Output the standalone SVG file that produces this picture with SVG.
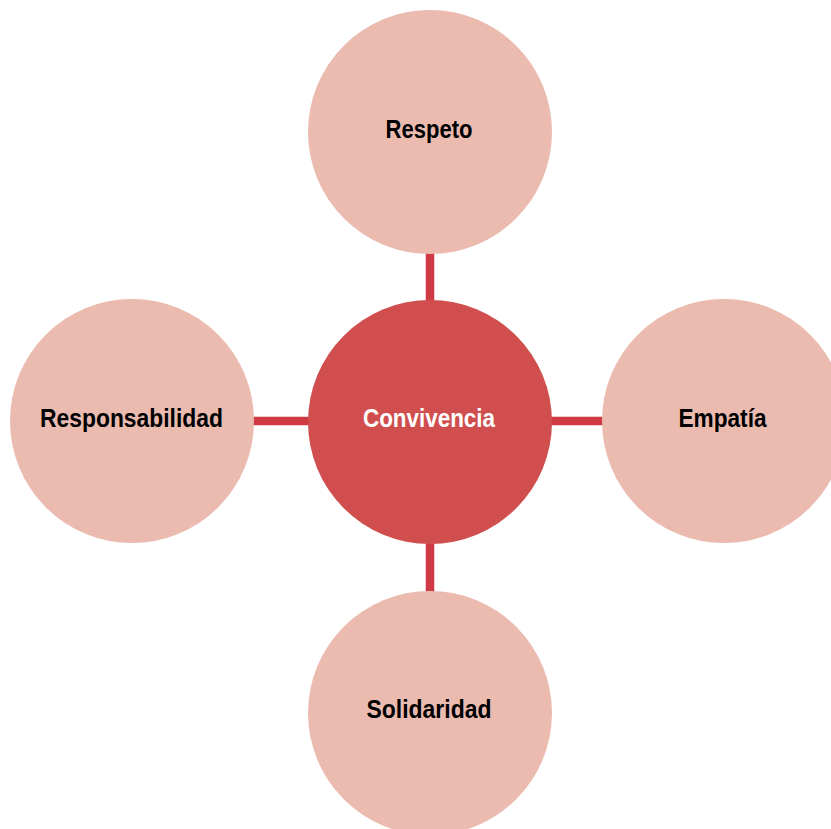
<svg xmlns="http://www.w3.org/2000/svg" width="831" height="829" viewBox="0 0 831 829">
<style>
.leaf{fill:#EBBBB0}
.hub{fill:#D04F4E}
.lbl{font-family:"Liberation Sans",Arial,sans-serif;font-weight:bold;font-size:25px;text-anchor:middle;fill:#000}
.hubl{fill:#fff}
.conn{stroke:#D03A44;stroke-width:8.5;fill:none}
</style>
<rect width="831" height="829" fill="#fff"/>
<g id="connectors">
<line class="conn" x1="430" y1="250" x2="430" y2="304"/>
<line class="conn" x1="430" y1="540" x2="430" y2="595"/>
<line class="conn" x1="250" y1="421" x2="312" y2="421"/>
<line class="conn" x1="548" y1="421" x2="606" y2="421"/>
</g>
<g id="node-respeto">
<circle class="leaf" cx="430" cy="132" r="122"/>
<text class="lbl" x="429" y="138" textLength="87" lengthAdjust="spacingAndGlyphs">Respeto</text>
</g>
<g id="node-responsabilidad">
<circle class="leaf" cx="132" cy="421" r="122"/>
<text class="lbl" x="131.5" y="427" textLength="183" lengthAdjust="spacingAndGlyphs">Responsabilidad</text>
</g>
<g id="node-empatia">
<circle class="leaf" cx="724" cy="421" r="122"/>
<text class="lbl" x="722.5" y="427" textLength="88" lengthAdjust="spacingAndGlyphs">Empatía</text>
</g>
<g id="node-solidaridad">
<circle class="leaf" cx="430" cy="713" r="122"/>
<text class="lbl" x="429" y="718" textLength="125" lengthAdjust="spacingAndGlyphs">Solidaridad</text>
</g>
<g id="node-convivencia">
<circle class="hub" cx="430" cy="422" r="122"/>
<text class="lbl hubl" x="429" y="427" textLength="132" lengthAdjust="spacingAndGlyphs">Convivencia</text>
</g>
</svg>
